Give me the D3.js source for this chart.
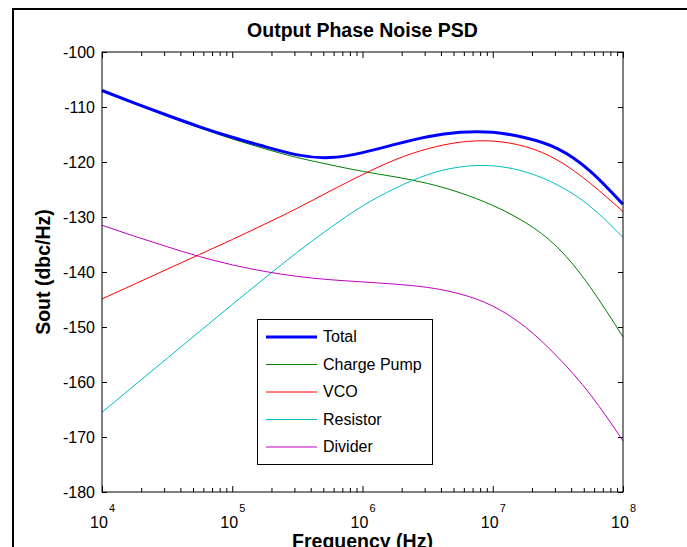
<!DOCTYPE html>
<html>
  <head>
    <meta charset="utf-8">
    <title>Output Phase Noise PSD</title>
    <script src="https://cdn.jsdelivr.net/npm/d3@7"></script>
    <style>
      body
      {
        margin: 0px;
        padding: 0px;
        background: white;
        font-family: "Liberation Sans", Arial, sans-serif;
      }

      .tick text
      {
        font-size: 16px;
        fill: black;
      }

      .curve
      {
        fill: none;
        stroke-linejoin: round;
      }

      .legend text
      {
        font-size: 16px;
        dominant-baseline: middle;
      }
    </style>
  </head>
  <body>
    <svg id="chart"></svg>

    <script>
      //--- Data (frequency in Hz, noise in dBc/Hz)
      var freqs = [1e4, 1.778e4, 3.162e4, 5.623e4, 1e5, 1.778e5, 3.162e5, 5.623e5, 1e6,
                   1.778e6, 3.162e6, 5.623e6, 1e7, 1.778e7, 3.162e7, 5.623e7, 1e8];

      var total      = [-107.0, -109.3, -111.5, -113.6, -115.5, -117.2, -118.7, -119.2, -118.3,
                        -116.8, -115.4, -114.6, -114.6, -115.6, -117.6, -121.7, -127.7];
      var chargePump = [-107.1, -109.4, -111.6, -113.8, -115.8, -117.6, -119.2, -120.5, -121.7,
                        -122.7, -123.9, -125.6, -127.9, -131.0, -135.6, -142.8, -151.8];
      var vco        = [-144.9, -142.2, -139.5, -136.8, -134.1, -131.3, -128.4, -125.3, -122.3,
                        -119.6, -117.6, -116.4, -116.2, -117.2, -119.7, -123.9, -129.0];
      var resistor   = [-165.5, -160.6, -155.7, -150.8, -145.9, -141.1, -136.4, -132.0, -128.0,
                        -124.8, -122.3, -120.9, -120.7, -121.8, -124.2, -128.1, -133.7];
      var divider    = [-131.5, -133.5, -135.4, -137.2, -138.7, -139.9, -140.8, -141.4, -141.8,
                        -142.2, -142.8, -144.0, -146.2, -150.0, -155.5, -162.3, -170.7];

      var seriesNames  = ["Total", "Charge Pump", "VCO", "Resistor", "Divider"];
      var seriesValues = [total, chargePump, vco, resistor, divider];
      var seriesColors = ["#0000ff", "#008000", "#ff0000", "#00bfbf", "#bf00bf"];
      var seriesWidths = [3, 1, 1, 1, 1];

      var xDecades = [1e4, 1e5, 1e6, 1e7, 1e8];
      var yTicks   = [-180, -170, -160, -150, -140, -130, -120, -110, -100];

      var width = 687;
      var height = 547;
      var plot = { left: 102, right: 623, top: 52, bottom: 492 };

      var svg = d3.select("#chart")
          .attr("width", width)
          .attr("height", height);

      svg.append("rect")
          .attr("width", width)
          .attr("height", height)
          .attr("fill", "white");

      //--- Figure frame (cut off by the window on the right and bottom)
      svg.append("path")
          .attr("d", "M13," + (height + 5) + "V9H" + (width + 5))
          .attr("fill", "none")
          .attr("stroke", "black")
          .attr("stroke-width", 2);

      var x = d3.scaleLog()
          .domain([1e4, 1e8])
          .range([plot.left, plot.right]);

      var y = d3.scaleLinear()
          .domain([-180, -100])
          .range([plot.bottom, plot.top]);

      //--- Minor ticks 2..9 in every decade
      var minorTicks = [];
      xDecades.slice(0, -1).forEach(function (d)
      {
        for (var k = 2; k <= 9; k++) minorTicks.push(d * k);
      });

      function styleAxis(g)
      {
        g.select(".domain").remove();
        g.selectAll(".tick line").attr("stroke", "black");
      }

      //--- Ticks point inward on all four sides
      svg.append("g")
          .attr("transform", "translate(0," + plot.bottom + ")")
          .call(d3.axisBottom(x).tickValues(minorTicks).tickSize(-4).tickFormat(""))
          .call(styleAxis);
      svg.append("g")
          .attr("transform", "translate(0," + plot.bottom + ")")
          .call(d3.axisBottom(x).tickValues(xDecades).tickSize(-6).tickFormat(""))
          .call(styleAxis);
      svg.append("g")
          .attr("transform", "translate(0," + plot.top + ")")
          .call(d3.axisTop(x).tickValues(minorTicks).tickSize(-4).tickFormat(""))
          .call(styleAxis);
      svg.append("g")
          .attr("transform", "translate(0," + plot.top + ")")
          .call(d3.axisTop(x).tickValues(xDecades).tickSize(-6).tickFormat(""))
          .call(styleAxis);

      svg.append("g")
          .attr("transform", "translate(" + plot.left + ",0)")
          .call(d3.axisLeft(y).tickValues(yTicks).tickSize(-5).tickPadding(7)
                .tickFormat(d => "-" + Math.abs(d)))
          .call(styleAxis)
          .selectAll("text")
            .attr("font-family", "'Liberation Sans', Arial, sans-serif");
      svg.append("g")
          .attr("transform", "translate(" + plot.right + ",0)")
          .call(d3.axisRight(y).tickValues(yTicks).tickSize(-5).tickFormat(""))
          .call(styleAxis);

      //--- Decade labels: "10" with a raised exponent
      var xLabels = svg.append("g").attr("font-size", "16px");
      xLabels.selectAll("text.base")
          .data(xDecades)
          .enter()
            .append("text")
              .attr("x", d => x(d) - 3)
              .attr("y", 528)
              .attr("text-anchor", "middle")
              .text("10");
      xLabels.selectAll("text.exp")
          .data(xDecades)
          .enter()
            .append("text")
              .attr("x", d => x(d) + 10)
              .attr("y", 512)
              .attr("text-anchor", "middle")
              .attr("font-size", "11px")
              .text(d => Math.round(Math.log10(d)));

      //--- Curves
      var line = d3.line()
          .x((d, i) => x(freqs[i]))
          .y(d => y(d))
          .curve(d3.curveNatural);

      var drawOrder = [1, 2, 3, 4, 0];
      svg.append("g")
          .selectAll("path")
          .data(drawOrder)
          .enter()
            .append("path")
              .classed("curve", true)
              .attr("d", i => line(seriesValues[i]))
              .attr("stroke", i => seriesColors[i])
              .attr("stroke-width", i => seriesWidths[i]);

      //--- Plot box
      svg.append("rect")
          .attr("x", plot.left)
          .attr("y", plot.top)
          .attr("width", plot.right - plot.left)
          .attr("height", plot.bottom - plot.top)
          .attr("fill", "none")
          .attr("stroke", "black")
          .attr("stroke-width", 1);

      //--- Titles
      svg.append("text")
          .attr("x", (plot.left + plot.right) / 2)
          .attr("y", 37)
          .attr("text-anchor", "middle")
          .attr("font-weight", "bold")
          .attr("font-size", "19.5px")
          .text("Output Phase Noise PSD");

      svg.append("text")
          .attr("x", (plot.left + plot.right) / 2)
          .attr("y", 548)
          .attr("text-anchor", "middle")
          .attr("font-weight", "bold")
          .attr("font-size", "19.5px")
          .text("Frequency (Hz)");

      svg.append("text")
          .attr("transform", "translate(50," + (plot.top + plot.bottom) / 2 + ") rotate(-90)")
          .attr("text-anchor", "middle")
          .attr("font-weight", "bold")
          .attr("font-size", "19.5px")
          .text("Sout (dbc/Hz)");

      //--- Legend
      var legend = svg.append("g").classed("legend", true);
      legend.append("rect")
          .attr("x", 257.5)
          .attr("y", 319.5)
          .attr("width", 175)
          .attr("height", 145)
          .attr("fill", "white")
          .attr("stroke", "black");

      var rows = legend.selectAll("g.row")
          .data(seriesNames)
          .enter()
            .append("g")
              .attr("transform", (d, i) => "translate(0," + (337 + i * 27.5) + ")");
      rows.append("line")
          .attr("x1", 266)
          .attr("x2", 317)
          .attr("stroke", (d, i) => seriesColors[i])
          .attr("stroke-width", (d, i) => seriesWidths[i]);
      rows.append("text")
          .attr("x", 323)
          .attr("y", 1)
          .text(d => d);
    </script>
  </body>
</html>
